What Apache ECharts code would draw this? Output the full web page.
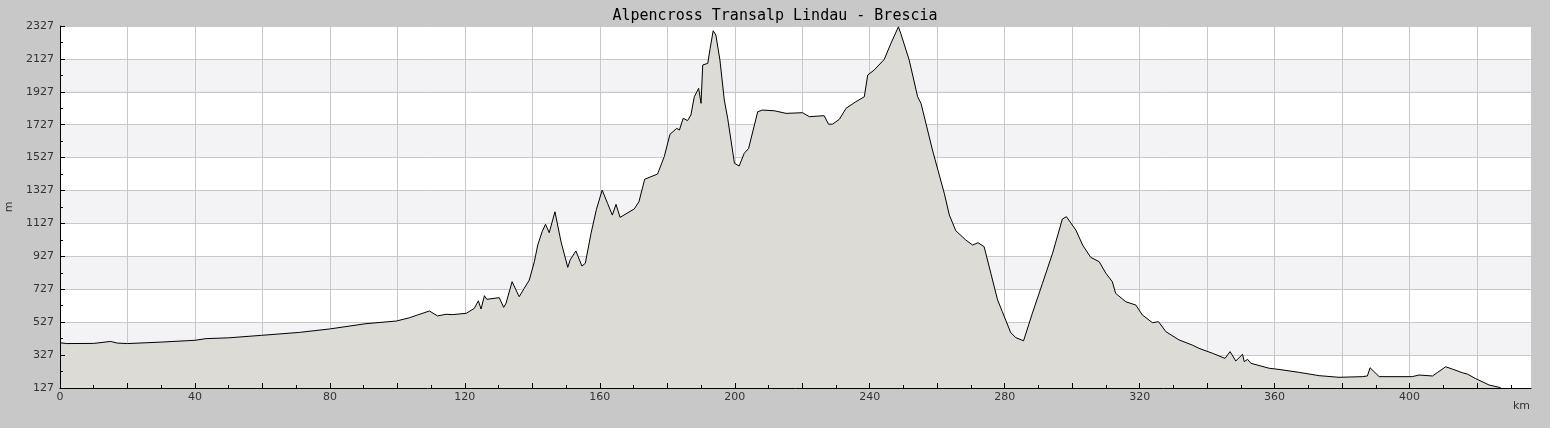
<!DOCTYPE html>
<html>
<head>
<meta charset="utf-8">
<title>Alpencross Transalp Lindau - Brescia</title>
<script src="https://cdn.jsdelivr.net/npm/echarts@6/dist/echarts.min.js"></script>
<style>
  html, body { margin: 0; padding: 0; background: #c8c8c8; }
  #chart { width: 1550px; height: 428px; }
</style>
</head>
<body>
<div id="chart"></div>
<script>
//--------------------- Data ---------------------------//
// distance along the route (km)
const distKm = [
  0, 2, 10, 15, 17, 20, 30, 40, 43.3, 50, 59.7, 71, 80, 90.7, 99.7, 103.6, 106,
  109.5, 111.9, 114.4, 116.4, 120.4, 122.8, 124, 124.8, 125.8, 126.5, 130.2,
  131.5, 132.2, 134, 136.1, 137.6, 139.1, 140.6, 141.6, 142.9, 143.9, 145,
  146.7, 148.5, 150.5, 151.2, 152.9, 154.7, 155.7, 157.4, 159, 160.7, 162.3,
  163.7, 164.8, 166, 170.2, 171.6, 173.3, 177.1, 179.1, 180.8, 182.8, 183.6,
  184.7, 186, 187, 188, 189.3, 190, 190.5, 192, 192.7, 193.6, 194.4, 195.6,
  196.9, 197.9, 199.9, 201.3, 202.8, 204.1, 206.8, 208.2, 211.7, 215.2, 220.1,
  222.1, 226.5, 227.8, 229, 231, 233, 235.9, 238.4, 239.4, 241.3, 244.3, 246.3,
  248.5, 249.2, 251.7, 254.2, 255.2, 258.6, 262.1, 263.6, 265.5, 268.5, 270.5,
  272.1, 273.9, 275.9, 277.9, 279.3, 281.8, 283.3, 285.6, 288.2, 291.2, 294.2,
  297.1, 298.3, 301.1, 303.1, 305.5, 308, 310, 311.9, 312.9, 315.9, 318.9,
  320.8, 323.8, 325.6, 327.8, 331.7, 335.6, 337.6, 341.6, 345.3, 346.8, 348.5,
  350.5, 351, 352, 353, 358.4, 361.3, 367.3, 373.2, 379.1, 386, 387.5, 388.3,
  389.5, 391, 400.8, 402.8, 406.8, 408.2, 410.7, 412.7, 415.6, 417.1, 419.6,
  423.6, 427
];
// elevation (m)
const elevM = [
  402, 397, 398, 410, 400, 397, 406, 417, 427, 432, 447, 465, 486, 518, 534, 554, 571,
  595, 565, 575, 573, 581, 611, 657, 607, 688, 666, 676,
  617, 642, 773, 682, 733, 783, 895, 996, 1077, 1122, 1071,
  1198, 1016, 860, 905, 960, 868, 885, 1067, 1213, 1330, 1249,
  1178, 1243, 1164, 1215, 1259, 1396, 1427, 1533, 1669, 1705, 1695,
  1766, 1752, 1786, 1897, 1948, 1857, 2090, 2100, 2191, 2298, 2272, 2120,
  1877, 1766, 1493, 1476, 1553, 1583, 1806, 1816, 1812, 1796, 1800,
  1776, 1782, 1730, 1731, 1760, 1827, 1867, 1897, 2029, 2059, 2124, 2222,
  2322, 2282, 2120, 1897, 1857, 1573, 1310, 1178, 1083, 1026, 996,
  1010, 986, 824, 662, 591, 463, 433, 414, 581, 763, 946,
  1154, 1168, 1087, 996, 921, 895, 824, 773, 702, 651, 631,
  571, 524, 530, 469, 419, 388, 368, 338, 307, 348, 291,
  332, 287, 301, 277, 247, 240, 222, 202, 192, 196, 200, 250,
  226, 196, 196, 206, 200, 220, 256, 242, 220, 212, 184,
  145, 129
];
// axis ranges and tick values
const yTicks = { min: 127, max: 2327, step: 200 };
const xRange = { min: 0, max: 436 };
const xGridTicks = [0, 20, 40, 60, 80, 100, 120, 140, 160, 180, 200, 220, 240, 260, 280, 300, 320, 340, 360, 380, 400, 420];
const xMinorTicks = [10, 30, 50, 70, 90, 110, 130, 150, 170, 190, 210, 230, 250, 270, 290, 310, 330, 350, 370, 390, 410, 430];
const xLabels = [0, 40, 80, 120, 160, 200, 240, 280, 320, 360, 400];

//--------------------- Chart ---------------------------//
const chart = echarts.init(document.getElementById('chart'));
const points = distKm.map((d, i) => [d, elevM[i]]);
const labelFont = { color: '#333', fontFamily: 'DejaVu Sans', fontSize: 11 };
const black = { color: '#000', width: 1 };

// grid lines / bands go under the profile, axis lines and ticks go over it
const option = {
  backgroundColor: '#c8c8c8',
  animation: false,
  title: {
    text: 'Alpencross Transalp Lindau - Brescia',
    left: 'center',
    top: 4,
    textStyle: { fontFamily: 'DejaVu Sans Mono', fontSize: 15, fontWeight: 'normal', color: '#000' }
  },
  grid: { left: 60, right: 19, top: 26, bottom: 40, containLabel: false, outerBoundsMode: 'none' },
  xAxis: [{
    // vertical grid lines every 20 km
    type: 'value', min: xRange.min, max: xRange.max, z: 0,
    axisLine: { show: false }, axisLabel: { show: false },
    axisTick: { show: false, customValues: xGridTicks },
    splitLine: { show: true, lineStyle: { color: '#c8c8c8', width: 1 } }
  }, {
    // axis line, ticks every 20 km, labels every 40 km
    type: 'value', position: 'bottom', min: xRange.min, max: xRange.max, z: 5,
    axisLine: { show: true, onZero: false, lineStyle: black },
    axisTick: { show: true, inside: true, length: 5, customValues: xGridTicks, lineStyle: black },
    splitLine: { show: false },
    axisLabel: Object.assign({ margin: 4, customValues: xLabels, formatter: v => String(v) }, labelFont)
  }, {
    // short ticks every 10 km
    type: 'value', position: 'bottom', min: xRange.min, max: xRange.max, z: 5,
    axisLine: { show: false, onZero: false },
    axisTick: { show: true, inside: true, length: 3, customValues: xMinorTicks, lineStyle: black },
    splitLine: { show: false },
    axisLabel: { show: false }
  }],
  yAxis: [{
    // horizontal grid lines and alternating bands
    type: 'value', min: yTicks.min, max: yTicks.max, interval: yTicks.step, z: 0,
    axisLine: { show: false }, axisTick: { show: false }, axisLabel: { show: false },
    splitLine: { show: true, lineStyle: { color: '#c8c8c8', width: 1 } },
    splitArea: { show: true, areaStyle: { color: ['#ffffff', '#f3f2f5'] } }
  }, {
    type: 'value', position: 'left', min: yTicks.min, max: yTicks.max, interval: yTicks.step, z: 5,
    name: 'm',
    nameLocation: 'middle',
    nameGap: 43,
    nameRotate: 90,
    nameTextStyle: labelFont,
    axisLine: { show: true, onZero: false, lineStyle: black },
    axisTick: { show: true, inside: true, length: 5, lineStyle: black },
    minorTick: { show: true, splitNumber: 2, length: 3, lineStyle: black },
    splitLine: { show: false },
    splitArea: { show: false },
    axisLabel: Object.assign({ margin: 6, formatter: v => String(v) }, labelFont)
  }],
  graphic: [{
    type: 'text',
    left: 1513,
    top: 401,
    style: { text: 'km', fill: '#333', font: '11px "DejaVu Sans"' }
  }],
  series: [{
    type: 'line',
    xAxisIndex: 0,
    yAxisIndex: 0,
    z: 2,
    data: points,
    showSymbol: false,
    lineStyle: { color: '#000', width: 1 },
    areaStyle: { color: '#dcdbd5', opacity: 1 }
  }]
};

chart.setOption(option);
</script>
</body>
</html>
